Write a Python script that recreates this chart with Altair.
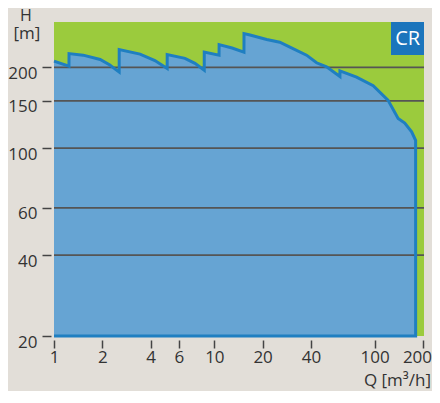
import altair as alt
import pandas as pd

# Upper boundary of the CR range (Q in m3/h, H in m)
Q_top = [1.0, 1.24, 1.241, 1.52, 1.94, 2.23, 2.55, 2.551, 3.44, 4.26, 5.08, 5.081,
         6.56, 7.57, 8.65, 8.651, 10.7, 10.71, 12.9, 15.3, 15.31, 16.7, 21.2, 25.6,
         29.6, 37.6, 43.4, 50.1, 60.7, 60.71, 77.1, 97.9, 121, 140, 154, 170, 180]
H_top = [211, 202, 225, 222, 214, 204, 192, 233, 224, 212, 198, 223,
         216, 207, 195, 228, 222, 243, 236, 228, 267, 264, 254, 248,
         238, 222, 208, 201, 185, 194, 184, 171, 151, 129, 124, 115, 107]
H_base = 20

x_ticks = [1, 2, 4, 6, 10, 20, 40, 100, 200]
y_ticks = [20, 40, 60, 100, 150, 200]
grid_vals = [40, 60, 100, 150, 200]

FONT = "Open Sans"
TXT = "#333333"

area_df = pd.DataFrame({"Q": Q_top, "H": H_top, "base": [H_base] * len(Q_top)})
line_df = pd.DataFrame({
    "Q": Q_top + [Q_top[-1], Q_top[0]],
    "H": H_top + [H_base, H_base],
})
line_df["i"] = range(len(line_df))
grid_df = pd.DataFrame({"g": grid_vals})
one = pd.DataFrame({"a": [0]})

xscale = alt.Scale(type="log", domain=[1, 203], nice=False)
yscale = alt.Scale(type="log", domain=[20, 295], nice=False)

xaxis = alt.Axis(values=x_ticks, format="d", title=None, grid=False, domain=False,
                 tickSize=8, tickWidth=1.5, tickColor="#444444", offset=4,
                 labelPadding=1, labelFontSize=17, labelFont=FONT, labelColor=TXT,
                 labelFlush=False, labelOverlap=False, labelBound=False,
                 labelOffset={"condition": {"test": "datum.value >= 200", "value": -6},
                              "value": 0})
yaxis = alt.Axis(values=y_ticks, format="d", title=None, grid=False, domain=False,
                 tickSize=9, tickWidth=1.5, tickColor="#444444", offset=3,
                 labelPadding=5, labelFontSize=17, labelFont=FONT, labelColor=TXT,
                 labelOffset=6, labelOverlap=False)

area = alt.Chart(area_df).mark_area(color="#66a4d3", opacity=1).encode(
    x=alt.X("Q:Q", scale=xscale, axis=xaxis),
    y=alt.Y("H:Q", scale=yscale, axis=yaxis),
    y2="base:Q",
)

grid = alt.Chart(grid_df).mark_rule(color="#555555", strokeWidth=1.8).encode(
    y=alt.Y("g:Q", scale=yscale)
)

outline = alt.Chart(line_df).mark_line(color="#1f7fc1", strokeWidth=3,
                                       strokeJoin="miter", strokeCap="butt").encode(
    x=alt.X("Q:Q", scale=xscale),
    y=alt.Y("H:Q", scale=yscale),
    order="i:Q",
)

box = alt.Chart(one).mark_rect(color="#1b75bc").encode(
    x=alt.value(337), x2=alt.value(370), y=alt.value(0), y2=alt.value(33)
)
box_text = alt.Chart(one).mark_text(text="CR", color="white", font=FONT, fontSize=20,
                                    align="center", baseline="middle").encode(
    x=alt.value(353.7), y=alt.value(17)
)
h_text = alt.Chart(one).mark_text(text="H", color=TXT, font=FONT, fontSize=16,
                                  align="center", baseline="alphabetic").encode(
    x=alt.value(-28), y=alt.value(-1)
)
m_text = alt.Chart(one).mark_text(text="[m]", color=TXT, font=FONT, fontSize=17,
                                  align="center", baseline="alphabetic").encode(
    x=alt.value(-27), y=alt.value(17)
)
q_text = alt.Chart(one).mark_text(text="Q [m³/h]", color=TXT, font=FONT, fontSize=17,
                                  align="right", baseline="alphabetic").encode(
    x=alt.value(377), y=alt.value(364)
)

chart = alt.layer(area, grid, outline, box, box_text, h_text, m_text, q_text).properties(
    width=370, height=314,
    autosize=alt.AutoSizeParams(type="none"),
    padding={"left": 46, "top": 14, "right": 8, "bottom": 55},
    background="#e2ded8",
).configure_view(fill="#9bcb3d", stroke=None)

chart.save("out.html", embed_options={"renderer": "svg", "actions": False})
